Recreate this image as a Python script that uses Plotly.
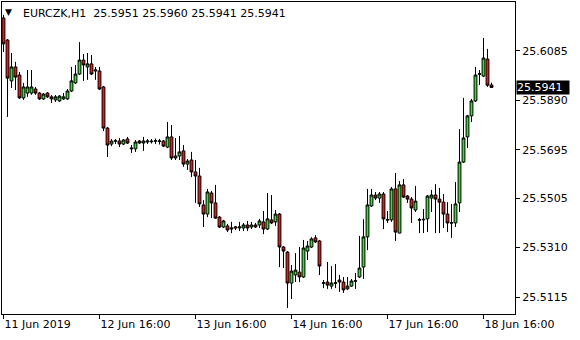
import plotly.graph_objects as go

# ---- data (EURCZK H1, one row per bar) ----
bar_index = list(range(123))
open_ = [25.6215, 25.6128, 25.5967, 25.6022, 25.5990, 25.5900, 25.5919, 25.5919, 25.5935, 25.5919,
         25.5896, 25.5919, 25.5904, 25.5892, 25.5888, 25.5896, 25.5896, 25.5927, 25.5959, 25.5994,
         25.6049, 25.6022, 25.6034, 25.6006, 25.6006, 25.5943, 25.5781, 25.5718, 25.5729, 25.5730,
         25.5718, 25.5738, 25.5699, 25.5699, 25.5730, 25.5722, 25.5726, 25.5727, 25.5729, 25.5728,
         25.5730, 25.5706, 25.5746, 25.5663, 25.5671, 25.5691, 25.5639, 25.5655, 25.5608, 25.5592,
         25.5478, 25.5442, 25.5525, 25.5486, 25.5430, 25.5391, 25.5395, 25.5383, 25.5387, 25.5387,
         25.5387, 25.5399, 25.5391, 25.5399, 25.5399, 25.5411, 25.5383, 25.5419, 25.5411, 25.5442,
         25.5312, 25.5292, 25.5170, 25.5202, 25.5213, 25.5194, 25.5296, 25.5312, 25.5348, 25.5336,
         25.5169, 25.5174, 25.5158, 25.5169, 25.5182, 25.5174, 25.5147, 25.5158, 25.5177, 25.5194,
         25.5233, 25.5352, 25.5474, 25.5517, 25.5505, 25.5521, 25.5418, 25.5419, 25.5541, 25.5367,
         25.5557, 25.5513, 25.5501, 25.5458, 25.5418, 25.5419, 25.5423, 25.5505, 25.5517, 25.5501,
         25.5489, 25.5442, 25.5406, 25.5407, 25.5486, 25.5647, 25.5746, 25.5829, 25.5888, 25.5993,
         25.5986, 25.6053, 25.5951]
high = [25.6227, 25.6132, 25.6077, 25.6042, 25.6002, 25.5959, 25.6010, 25.6010, 25.5943, 25.5923,
        25.5919, 25.5923, 25.5911, 25.5911, 25.5911, 25.5919, 25.5935, 25.6022, 25.6030, 25.6120,
        25.6073, 25.6077, 25.6069, 25.6022, 25.6022, 25.5947, 25.5785, 25.5738, 25.5738, 25.5742,
        25.5738, 25.5746, 25.5714, 25.5734, 25.5734, 25.5746, 25.5738, 25.5738, 25.5740, 25.5738,
        25.5734, 25.5805, 25.5793, 25.5742, 25.5750, 25.5714, 25.5659, 25.5687, 25.5655, 25.5624,
        25.5497, 25.5541, 25.5533, 25.5557, 25.5434, 25.5419, 25.5403, 25.5411, 25.5395, 25.5411,
        25.5407, 25.5415, 25.5411, 25.5407, 25.5423, 25.5454, 25.5525, 25.5517, 25.5458, 25.5446,
        25.5316, 25.5296, 25.5241, 25.5288, 25.5312, 25.5340, 25.5336, 25.5351, 25.5359, 25.5340,
        25.5182, 25.5253, 25.5237, 25.5245, 25.5202, 25.5194, 25.5194, 25.5186, 25.5210, 25.5356,
        25.5422, 25.5541, 25.5541, 25.5529, 25.5529, 25.5529, 25.5454, 25.5549, 25.5604, 25.5572,
        25.5580, 25.5517, 25.5509, 25.5553, 25.5427, 25.5462, 25.5517, 25.5537, 25.5560, 25.5545,
        25.5521, 25.5489, 25.5482, 25.5568, 25.5777, 25.5900, 25.5833, 25.5896, 25.6022, 25.6010,
        25.6136, 25.6093, 25.5960]
low = [25.6081, 25.5825, 25.5939, 25.5931, 25.5896, 25.5892, 25.5904, 25.5912, 25.5912, 25.5892,
       25.5892, 25.5900, 25.5880, 25.5884, 25.5884, 25.5892, 25.5892, 25.5923, 25.5955, 25.5990,
       25.5967, 25.5971, 25.5990, 25.5971, 25.5931, 25.5769, 25.5667, 25.5710, 25.5718, 25.5706,
       25.5714, 25.5718, 25.5683, 25.5687, 25.5718, 25.5691, 25.5718, 25.5720, 25.5718, 25.5716,
       25.5706, 25.5702, 25.5655, 25.5655, 25.5655, 25.5628, 25.5616, 25.5588, 25.5486, 25.5470,
       25.5391, 25.5430, 25.5426, 25.5423, 25.5387, 25.5387, 25.5371, 25.5367, 25.5379, 25.5375,
       25.5375, 25.5375, 25.5383, 25.5387, 25.5387, 25.5363, 25.5379, 25.5403, 25.5395, 25.5233,
       25.5229, 25.5072, 25.5107, 25.5174, 25.5174, 25.5190, 25.5261, 25.5308, 25.5328, 25.5202,
       25.5150, 25.5147, 25.5147, 25.5150, 25.5135, 25.5131, 25.5143, 25.5155, 25.5147, 25.5190,
       25.5186, 25.5300, 25.5470, 25.5497, 25.5486, 25.5383, 25.5407, 25.5411, 25.5336, 25.5367,
       25.5505, 25.5486, 25.5407, 25.5450, 25.5367, 25.5367, 25.5371, 25.5450, 25.5367, 25.5367,
       25.5387, 25.5371, 25.5348, 25.5391, 25.5450, 25.5643, 25.5702, 25.5805, 25.5884, 25.5951,
       25.5982, 25.5943, 25.5941]
close = [25.6113, 25.5978, 25.6022, 25.5982, 25.5900, 25.5943, 25.5943, 25.5943, 25.5919, 25.5896,
         25.5915, 25.5904, 25.5896, 25.5904, 25.5907, 25.5904, 25.5927, 25.5967, 25.5994, 25.6049,
         25.6030, 25.6034, 25.5994, 25.6010, 25.5935, 25.5781, 25.5714, 25.5730, 25.5731, 25.5718,
         25.5734, 25.5722, 25.5702, 25.5726, 25.5722, 25.5730, 25.5730, 25.5729, 25.5731, 25.5730,
         25.5710, 25.5746, 25.5663, 25.5671, 25.5687, 25.5639, 25.5651, 25.5608, 25.5592, 25.5482,
         25.5442, 25.5529, 25.5486, 25.5426, 25.5391, 25.5415, 25.5379, 25.5387, 25.5391, 25.5391,
         25.5399, 25.5387, 25.5399, 25.5391, 25.5415, 25.5383, 25.5423, 25.5407, 25.5442, 25.5312,
         25.5296, 25.5170, 25.5217, 25.5221, 25.5194, 25.5308, 25.5316, 25.5344, 25.5332, 25.5237,
         25.5171, 25.5162, 25.5170, 25.5171, 25.5174, 25.5143, 25.5158, 25.5178, 25.5179, 25.5229,
         25.5352, 25.5478, 25.5517, 25.5505, 25.5521, 25.5423, 25.5420, 25.5541, 25.5371, 25.5557,
         25.5509, 25.5501, 25.5466, 25.5493, 25.5420, 25.5421, 25.5513, 25.5517, 25.5501, 25.5489,
         25.5442, 25.5407, 25.5408, 25.5482, 25.5647, 25.5742, 25.5829, 25.5888, 25.5990, 25.5995,
         25.6057, 25.5950, 25.5941]

time_tick_index = [0, 24, 48, 72, 96, 120]
time_tick_text = ["11 Jun 2019", "12 Jun 16:00", "13 Jun 16:00", "14 Jun 16:00", "17 Jun 16:00", "18 Jun 16:00"]
price_ticks = [25.6085, 25.5890, 25.5695, 25.5505, 25.5310, 25.5115]
price_tick_text = ["25.6085", "25.5890", "25.5695", "25.5505", "25.5310", "25.5115"]
symbol = "EURCZK,H1"
last_price = 25.5941

FONT = "DejaVu Sans"

fig = go.Figure()
fig.add_trace(go.Candlestick(
    x=bar_index, open=open_, high=high, low=low, close=close,
    increasing=dict(fillcolor="#2EE62E", line=dict(color="black", width=1)),
    decreasing=dict(fillcolor="#FF1010", line=dict(color="black", width=1)),
    whiskerwidth=0,
    showlegend=False,
    hoverinfo="skip",
))

fig.update_layout(
    width=580, height=340,
    margin=dict(l=2, r=65, t=2, b=26),
    paper_bgcolor="white", plot_bgcolor="white",
    font=dict(family=FONT, size=11, color="black"),
    showlegend=False,
    boxgap=0.3, boxgroupgap=0,
    xaxis=dict(
        range=[-0.375, 127.875],
        rangeslider=dict(visible=False),
        showgrid=False, zeroline=False,
        showline=True, linecolor="black", linewidth=1, mirror=True,
        tickmode="array", tickvals=time_tick_index, ticktext=time_tick_text,
        ticks="outside", ticklen=4, tickcolor="black", tickwidth=1,
        ticklabelposition="outside right",
        tickfont=dict(family=FONT, size=11, color="black"),
    ),
    yaxis=dict(
        side="right",
        range=[25.5048, 25.6278],
        showgrid=False, zeroline=False,
        showline=True, linecolor="black", linewidth=1, mirror=True,
        tickmode="array", tickvals=price_ticks, ticktext=price_tick_text,
        ticks="outside", ticklen=4, tickcolor="black", tickwidth=1,
        tickfont=dict(family=FONT, size=11, color="black"),
    ),
)

# header (symbol + OHLC of last bar)
header = f"{symbol}  {open_[-1]:.4f} {high[-1]:.4f} {low[-1]:.4f} {close[-1]:.4f}"
fig.add_annotation(xref="paper", yref="paper", x=0, y=1, xanchor="left", yanchor="top",
                   xshift=1, yshift=-3, text="▼", showarrow=False,
                   font=dict(family=FONT, size=9, color="black"))
fig.add_annotation(xref="paper", yref="paper", x=0, y=1, xanchor="left", yanchor="top",
                   xshift=19, yshift=-3, text=header, showarrow=False,
                   font=dict(family=FONT, size=11, color="black"))

# current price label
fig.add_annotation(xref="paper", yref="y", x=1, y=last_price, xanchor="left", yanchor="middle",
                   xshift=1, text=f"{last_price:.4f}", showarrow=False,
                   bgcolor="black", width=52, height=13, align="left", borderpad=0,
                   font=dict(family=FONT, size=11, color="white"))

fig.write_html("out.html")
